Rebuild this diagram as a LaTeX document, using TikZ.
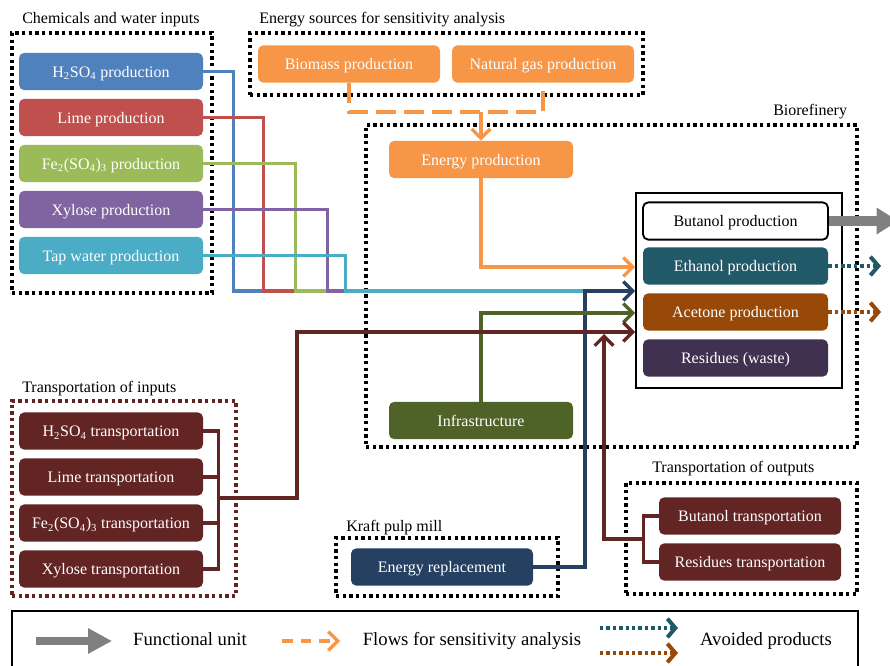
\documentclass[tikz,border=0pt]{standalone}
\usepackage{fontspec}
\setmainfont{Liberation Serif}
\usetikzlibrary{arrows.meta}
\definecolor{cBlue}{HTML}{4F81BD}
\definecolor{cRed}{HTML}{C0504D}
\definecolor{cGreen}{HTML}{9BBB59}
\definecolor{cPurple}{HTML}{8064A2}
\definecolor{cAqua}{HTML}{4BACC6}
\definecolor{cOrange}{HTML}{F79646}
\definecolor{cTeal}{HTML}{215968}
\definecolor{cBrown}{HTML}{984807}
\definecolor{cPlum}{HTML}{403151}
\definecolor{cOlive}{HTML}{4F6228}
\definecolor{cNavy}{HTML}{254061}
\definecolor{cMaroon}{HTML}{632523}
\definecolor{cGray}{HTML}{808080}
\begin{document}
\begin{tikzpicture}[x=0.75pt,y=-0.75pt,
  pbox/.style={rectangle, rounded corners=4pt, minimum width=138pt, minimum height=28pt, inner sep=0pt, text height=10pt, text depth=1.5pt, text=white, font=\fontsize{12}{14}\selectfont},
  grp/.style={draw=black, line width=2.6pt, dash pattern=on 2.5pt off 2.5pt, inner sep=0pt},
  lbl/.style={anchor=base west, inner sep=0pt, font=\fontsize{12}{14}\selectfont},
  leg/.style={anchor=base, inner sep=0pt, font=\fontsize{14}{16}\selectfont},
  conn/.style={line width=2.5pt, draw=#1},
  tip/.style={-{Straight Barb[length=7pt,width=14pt]}},
  bigarrow/.style={draw=cGray, line width=7.5pt, -{Triangle[length=16pt,width=19pt]}},
  avoid/.style={line width=3pt, draw=#1, dash pattern=on 2.6pt off 2.2pt, -{Straight Barb[length=6pt,width=14pt]}}
]
\useasboundingbox (0,0) rectangle (890,666);

% ---------- groups ----------
\node[grp, minimum width=150pt, minimum height=195pt] (gChem) at (112,163) {};
\node[grp, minimum width=294.75pt, minimum height=46.5pt] (gEnergy) at (446.5,64) {};
\node[grp, minimum width=368.25pt, minimum height=241.5pt] (gBio) at (611.5,286) {};
\node[grp, draw=cMaroon, minimum width=168pt, minimum height=146.25pt] (gTin) at (124,498.5) {};
\node[grp, minimum width=166.5pt, minimum height=43.5pt] (gKraft) at (447,567) {};
\node[grp, minimum width=173.25pt, minimum height=83.25pt] (gTout) at (741.5,538.5) {};

\node[lbl] (tChem) at (22,24) {Chemicals and water inputs};
\node[lbl] (tEnergy) at (259,24) {Energy sources for sensitivity analysis};
\node[lbl] (tBio) at (773,116) {Biorefinery};
\node[lbl] (tTin) at (22,393) {Transportation of inputs};
\node[lbl] (tKraft) at (346,532) {Kraft pulp mill};
\node[lbl] (tTout) at (652,473) {Transportation of outputs};

% ---------- nodes ----------
\node[pbox, fill=cBlue] (h2so4p) at (111,71.5) {H\textsubscript{2}SO\textsubscript{4} production};
\node[pbox, fill=cRed] (limep) at (111,117.5) {Lime production};
\node[pbox, fill=cGreen] (fep) at (111,163.5) {Fe\textsubscript{2}(SO\textsubscript{4})\textsubscript{3} production};
\node[pbox, fill=cPurple] (xylp) at (111,209.5) {Xylose production};
\node[pbox, fill=cAqua] (tapp) at (111,255.5) {Tap water production};

\node[pbox, fill=cOrange, minimum width=136.5pt] (biomass) at (349,64) {Biomass production};
\node[pbox, fill=cOrange, minimum width=136.5pt] (natgas) at (543,64) {Natural gas production};

\node[pbox, fill=cOrange] (energy) at (481,159.5) {Energy production};
\node[pbox, fill=cOlive] (infra) at (481,420.5) {Infrastructure};

\node[draw=black, line width=1.3pt, minimum width=154.5pt, minimum height=146.25pt, inner sep=0pt] (refbox) at (739,290.5) {};
\node[pbox, fill=white, draw=black, line width=1.4pt, text=black, minimum width=138.75pt] (butanol) at (735.5,221) {Butanol production};
\node[pbox, fill=cTeal, minimum width=138.75pt] (ethanol) at (735.5,266) {Ethanol production};
\node[pbox, fill=cBrown, minimum width=138.75pt] (acetone) at (735.5,312) {Acetone production};
\node[pbox, fill=cPlum, minimum width=138.75pt] (residues) at (735.5,358) {Residues (waste)};

\node[pbox, fill=cMaroon] (ti1) at (111,431) {H\textsubscript{2}SO\textsubscript{4} transportation};
\node[pbox, fill=cMaroon] (ti2) at (111,477) {Lime transportation};
\node[pbox, fill=cMaroon] (ti3) at (111,523) {Fe\textsubscript{2}(SO\textsubscript{4})\textsubscript{3} transportation};
\node[pbox, fill=cMaroon] (ti4) at (111,569) {Xylose transportation};

\node[pbox, fill=cNavy, minimum width=136.5pt] (erep) at (442,567) {Energy replacement};

\node[pbox, fill=cMaroon, minimum width=136.5pt] (bt) at (750,516) {Butanol transportation};
\node[pbox, fill=cMaroon, minimum width=136.5pt] (rt) at (750,562) {Residues transportation};

% ---------- coordinates ----------
\coordinate (merge) at (585,291);
\coordinate (inO) at (635,267);
\coordinate (inB) at (635,291);
\coordinate (inG) at (635,313);
\coordinate (inR) at (635,332);
\coordinate (tb) at (218,498);
\coordinate (ob) at (644,539);
\coordinate (dsplit) at (481,112);
\coordinate (butEnd) at (898,221);
\coordinate (ethEnd) at (881,266);
\coordinate (aceEnd) at (881,312);

% ---------- connectors ----------
\draw[conn=cBlue] (h2so4p.east) -- ++(30,0) |- (merge);
\draw[conn=cRed] (limep.east) -- ++(60,0) |- (merge);
\draw[conn=cGreen] (fep.east) -- ++(92,0) |- (merge);
\draw[conn=cPurple] (xylp.east) -- ++(124,0) |- (merge);
\draw[conn=cAqua] (tapp.east) -- ++(142,0) |- (merge);
\draw[conn=cNavy, tip] (erep.east) -| (merge) -- (inB);

\draw[conn=cOrange, tip] (energy.south) |- (inO);
\draw[conn=cOlive, tip] (infra.north) |- (inG);

\draw[conn=cMaroon] (ti1.east) -- ++(15,0) |- (ti4.east);
\draw[conn=cMaroon] (ti2.east) -- ++(15,0);
\draw[conn=cMaroon] (ti3.east) -- ++(15,0);
\draw[conn=cMaroon, tip] (tb) -- ++(79,0) |- (inR);

\draw[conn=cMaroon] (bt.west) -- ++(-15,0) |- (rt.west);
\draw[conn=cMaroon, tip] (ob) -- ++(-40,0) -- ++(0,-205);

\draw[conn=cOrange, dash pattern=on 15pt off 6pt] (biomass.south) -- ++(0,29) -| (natgas.south);
\draw[conn=cOrange, tip] (dsplit) -- (energy.north);

\draw[bigarrow] (butanol.east) -- (butEnd);
\draw[avoid=cTeal] (ethanol.east) -- (ethEnd);
\draw[avoid=cBrown] (acetone.east) -- (aceEnd);

% ---------- legend ----------
\node[draw=black, line width=0.8pt, minimum width=634.5pt, minimum height=66.75pt, inner sep=0pt] (legend) at (435,655.5) {};
\coordinate (lg1a) at (36,641); \coordinate (lg1b) at (112,641);
\coordinate (lg2a) at (282,641); \coordinate (lg2b) at (340,641);
\coordinate (lg3a) at (600,628); \coordinate (lg3b) at (678,628);
\coordinate (lg4a) at (600,653); \coordinate (lg4b) at (678,653);
\draw[bigarrow, line width=6pt, -{Triangle[length=18pt,width=18pt]}] (lg1a) -- (lg1b);
\draw[conn=cOrange, dash pattern=on 8pt off 6pt, tip] (lg2a) -- (lg2b);
\draw[avoid=cTeal] (lg3a) -- (lg3b);
\draw[avoid=cBrown] (lg4a) -- (lg4b);
\node[leg] (l1) at (190,646) {Functional unit};
\node[leg] (l2) at (472,646) {Flows for sensitivity analysis};
\node[leg] (l3) at (766,646) {Avoided products};
\end{tikzpicture}
\end{document}
